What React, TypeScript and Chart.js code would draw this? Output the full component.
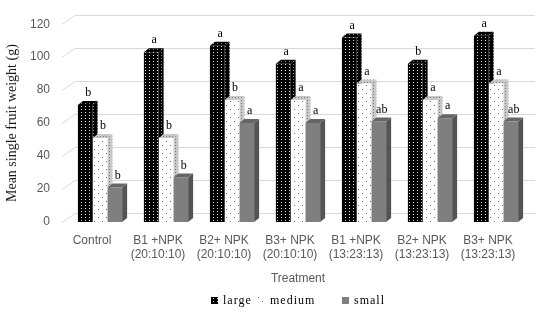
import React, { useEffect, useRef } from 'react';
import { Chart, registerables } from 'chart.js';

Chart.register(...registerables);

const categories = [
  ['Control'],
  ['B1 +NPK', '(20:10:10)'],
  ['B2+ NPK', '(20:10:10)'],
  ['B3+ NPK', '(20:10:10)'],
  ['B1 +NPK', '(13:23:13)'],
  ['B2+ NPK', '(13:23:13)'],
  ['B3+ NPK', '(13:23:13)'],
];
const seriesNames = ['large', 'medium', 'small'];
const largeValues = [71, 103, 107, 96, 112, 96, 113];
const mediumValues = [51, 51, 74, 74, 84, 74, 84];
const smallValues = [21, 27, 60, 60, 61, 63, 61];
const largeLetters = ['b', 'a', 'a', 'a', 'a', 'b', 'a'];
const mediumLetters = ['b', 'b', 'b', 'a', 'a', 'a', 'a'];
const smallLetters = ['b', 'b', 'a', 'a', 'ab', 'a', 'ab'];
const yTitle = 'Mean single fruit weight (g)';
const xTitle = 'Treatment';

const DX = 5;
const DY = 4;
const GRID_DX = 13;
const GRID_DY = 9;

function makePattern(w: number, h: number, bg: string, dots: [number, number][], dotColor: string) {
  const c = document.createElement('canvas');
  c.width = w;
  c.height = h;
  const g = c.getContext('2d')!;
  g.fillStyle = bg;
  g.fillRect(0, 0, w, h);
  g.fillStyle = dotColor;
  dots.forEach(([x, y]) => g.fillRect(x, y, 1, 1));
  const ctx = document.createElement('canvas').getContext('2d')!;
  return ctx.createPattern(c, 'repeat')!;
}

export default function App() {
  const ref = useRef<HTMLCanvasElement>(null);

  useEffect(() => {
    if (!ref.current) return;
    const largeFront = makePattern(4, 3, '#000000', [[1, 1]], '#d8d8d8');
    const largeSide = makePattern(4, 3, '#000000', [[1, 1]], '#8a8a8a');
    const mediumFront = makePattern(8, 8, '#ffffff', [[2, 1], [6, 5]], '#6a6a6a');
    const mediumSide = makePattern(3, 3, '#c8c8c8', [[1, 1]], '#7a7a7a');
    const smallFront = '#7f7f7f';
    const fronts: any[] = [largeFront, mediumFront, smallFront];
    const sideColors: any[] = [largeSide, mediumSide, '#545454'];
    const topColors: any[] = [largeSide, mediumSide, '#666666'];
    const letters = [largeLetters, mediumLetters, smallLetters];
    const legendGaps = [6, 26];

    const threeD = {
      id: 'threeD',
      beforeDatasetsDraw(chart: any) {
        const { ctx, chartArea, scales } = chart;
        const ys = scales.y;
        ctx.save();
        ctx.strokeStyle = '#d9d9d9';
        ctx.lineWidth = 1;
        ys.ticks.forEach((t: any) => {
          const py = Math.round(ys.getPixelForValue(t.value)) + 0.5;
          ctx.beginPath();
          ctx.moveTo(chartArea.left - 5, py);
          ctx.lineTo(chartArea.left - 5 + GRID_DX, py - GRID_DY);
          ctx.lineTo(chartArea.right + 6, py - GRID_DY);
          ctx.stroke();
        });
        chart.data.datasets.forEach((_ds: any, di: number) => {
          const meta = chart.getDatasetMeta(di);
          meta.data.forEach((el: any) => {
            const { x, y, base, width } = el.getProps(['x', 'y', 'base', 'width'], true);
            const l = x - width / 2;
            const r = x + width / 2;
            ctx.fillStyle = sideColors[di];
            ctx.beginPath();
            ctx.moveTo(r, y);
            ctx.lineTo(r + DX, y - DY);
            ctx.lineTo(r + DX, base - DY);
            ctx.lineTo(r, base);
            ctx.closePath();
            ctx.fill();
            ctx.fillStyle = topColors[di];
            ctx.beginPath();
            ctx.moveTo(l, y);
            ctx.lineTo(l + DX, y - DY);
            ctx.lineTo(r + DX, y - DY);
            ctx.lineTo(r, y);
            ctx.closePath();
            ctx.fill();
          });
        });
        ctx.restore();
      },
      afterDatasetsDraw(chart: any) {
        const { ctx } = chart;
        ctx.save();
        ctx.font = '12px "Liberation Serif"';
        ctx.fillStyle = '#000000';
        ctx.textAlign = 'center';
        ctx.textBaseline = 'middle';
        chart.data.datasets.forEach((_ds: any, di: number) => {
          const meta = chart.getDatasetMeta(di);
          meta.data.forEach((el: any, i: number) => {
            const { x, y } = el.getProps(['x', 'y'], true);
            ctx.fillText(letters[di][i], x + 3, y - 12);
          });
        });
        ctx.restore();
      },
      afterDraw(chart: any) {
        const { ctx, chartArea } = chart;
        ctx.save();
        ctx.font = '12px "Liberation Serif"';
        (ctx as any).letterSpacing = '1px';
        ctx.textBaseline = 'middle';
        ctx.textAlign = 'left';
        const box = 7;
        const gap = 5;
        const widths = seriesNames.map((n) => box + gap + ctx.measureText(n).width);
        const total = widths.reduce((a, b) => a + b, 0) + legendGaps.reduce((a, b) => a + b, 0);
        const cy = 300;
        let x = (chartArea.left + chartArea.right) / 2 - total / 2;
        seriesNames.forEach((n, i) => {
          ctx.fillStyle = fronts[i];
          ctx.fillRect(Math.round(x), cy - 3, box, box);
          ctx.fillStyle = '#000000';
          ctx.fillText(n, Math.round(x) + box + gap, cy + 1);
          x += widths[i] + (legendGaps[i] || 0);
        });
        ctx.restore();
      },
    };

    const chart = new Chart(ref.current, {
      type: 'bar',
      data: {
        labels: categories as any,
        datasets: [
          { label: seriesNames[0], data: largeValues, backgroundColor: largeFront as any, borderWidth: 0 },
          { label: seriesNames[1], data: mediumValues, backgroundColor: mediumFront as any, borderWidth: 0 },
          { label: seriesNames[2], data: smallValues, backgroundColor: smallFront, borderWidth: 0 },
        ],
      },
      options: {
        responsive: false,
        animation: false,
        events: [],
        layout: { padding: { top: 20, right: 20, left: 4, bottom: 36 } },
        datasets: { bar: { categoryPercentage: 0.67, barPercentage: 1 } },
        plugins: {
          tooltip: { enabled: false },
          legend: { display: false },
        },
        scales: {
          x: {
            grid: { display: false, drawTicks: false },
            border: { display: false },
            afterFit: (s: any) => {
              s.height = 64;
            },
            ticks: {
              color: '#595959',
              font: { family: '"Liberation Sans"', size: 12 },
              labelOffset: -8,
              padding: 11,
              maxRotation: 0,
              autoSkip: false,
            },
            title: {
              display: true,
              text: xTitle,
              color: '#595959',
              font: { family: '"Liberation Sans"', size: 12 },
              padding: { top: 0, bottom: 0 },
            },
          },
          y: {
            min: 0,
            max: 120,
            grid: { display: false, drawTicks: false },
            border: { display: false },
            afterFit: (s: any) => {
              s.width = 63;
            },
            ticks: {
              stepSize: 20,
              color: '#595959',
              font: { family: '"Liberation Sans"', size: 12 },
              padding: 17,
            },
            title: {
              display: true,
              text: yTitle,
              color: '#1a1a1a',
              font: { family: '"Liberation Serif"', size: 14 },
              padding: { top: 0, bottom: 0 },
            },
          },
        },
      },
      plugins: [threeD],
    });
    return () => chart.destroy();
  }, []);

  return (
    <div style={{ position: 'fixed', left: 0, top: 0, width: 549, height: 322, background: '#ffffff' }}>
      <canvas ref={ref} width={549} height={322} style={{ display: 'block' }} />
    </div>
  );
}
